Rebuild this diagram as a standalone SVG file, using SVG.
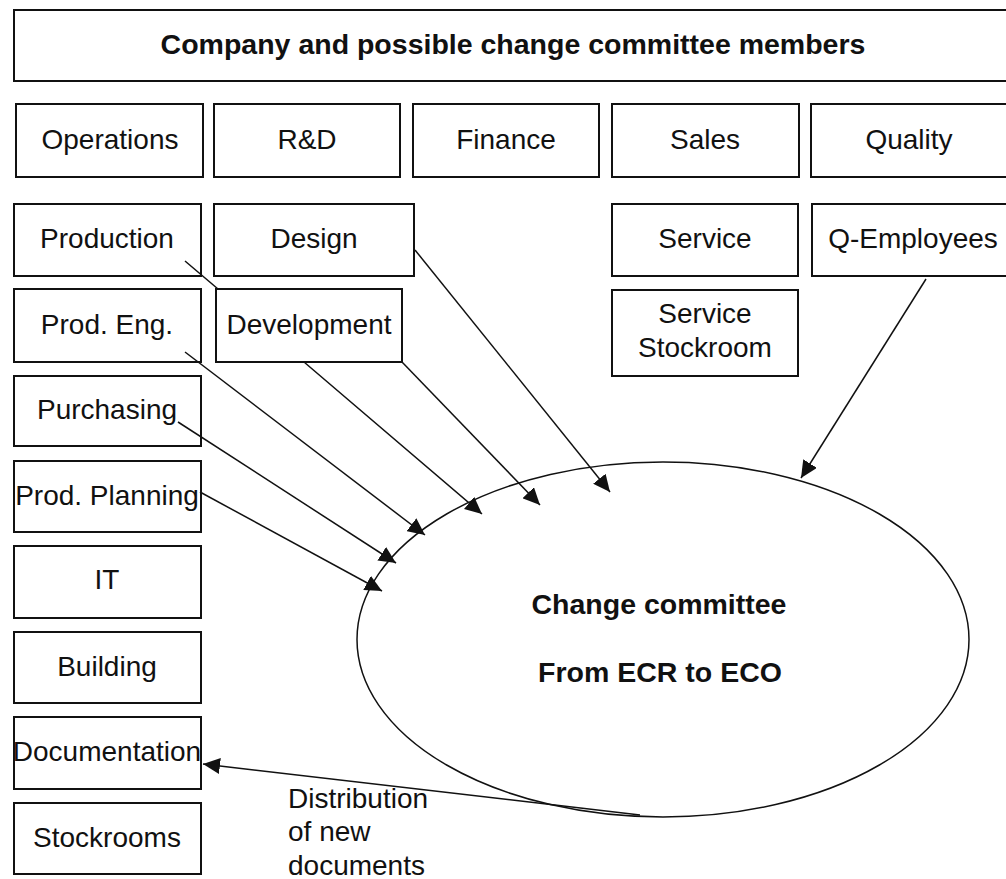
<svg xmlns="http://www.w3.org/2000/svg" width="1006" height="879" viewBox="0 0 1006 879">
<defs>
<style>
.box{fill:none;stroke:#111;stroke-width:2}
.t{font-family:"Liberation Sans",Arial,sans-serif;font-size:28px;fill:#111;text-anchor:middle}
.b{font-family:"Liberation Sans",Arial,sans-serif;font-size:28.5px;font-weight:bold;fill:#111;text-anchor:middle}
.l{font-family:"Liberation Sans",Arial,sans-serif;font-size:28px;fill:#111}
.c{fill:none;stroke:#111;stroke-width:1.5}
</style>
<marker id="ah" markerUnits="userSpaceOnUse" markerWidth="18" markerHeight="16" refX="17" refY="8" orient="auto">
<path d="M0,0 L17,8 L0,16 z" fill="#111"/>
</marker>
</defs>
<rect x="0" y="0" width="1006" height="879" fill="#fff"/>
<g id="connectors">
<path class="c" d="M185,261 L218,289 M304,362 L482,514" marker-end="url(#ah)"/>
<path class="c" d="M415,250 L610,492" marker-end="url(#ah)"/>
<path class="c" d="M402,362 L540,505" marker-end="url(#ah)"/>
<path class="c" d="M185,352 L425,535" marker-end="url(#ah)"/>
<path class="c" d="M178,422 L396,563" marker-end="url(#ah)"/>
<path class="c" d="M200,492 L382,591" marker-end="url(#ah)"/>
<path class="c" d="M926,279 L801,478" marker-end="url(#ah)"/>
<path class="c" d="M640,815 L203,764" marker-end="url(#ah)"/>
</g>
<g id="title"><rect class="box" x="14" y="10" width="1000" height="71"/><text class="b" x="513" y="54">Company and possible change committee members</text></g>
<g id="operations"><rect class="box" x="16" y="104" width="187" height="73"/><text class="t" x="110" y="149">Operations</text></g>
<g id="rd"><rect class="box" x="214" y="104" width="186" height="73"/><text class="t" x="307" y="149">R&amp;D</text></g>
<g id="finance"><rect class="box" x="413" y="104" width="186" height="73"/><text class="t" x="506" y="149">Finance</text></g>
<g id="sales"><rect class="box" x="612" y="104" width="187" height="73"/><text class="t" x="705" y="149">Sales</text></g>
<g id="quality"><rect class="box" x="811" y="104" width="200" height="73"/><text class="t" x="909" y="149">Quality</text></g>
<g id="production"><rect class="box" x="14" y="204" width="187" height="72"/><text class="t" x="107" y="248">Production</text></g>
<g id="design"><rect class="box" x="214" y="204" width="200" height="72"/><text class="t" x="314" y="248">Design</text></g>
<g id="service"><rect class="box" x="612" y="204" width="186" height="72"/><text class="t" x="705" y="248">Service</text></g>
<g id="q-employees"><rect class="box" x="812" y="204" width="200" height="72"/><text class="t" x="913" y="248">Q-Employees</text></g>
<g id="prod-eng"><rect class="box" x="14" y="289" width="187" height="73"/><text class="t" x="107" y="334">Prod. Eng.</text></g>
<g id="development"><rect class="box" x="216" y="289" width="186" height="73"/><text class="t" x="309" y="334">Development</text></g>
<g id="service-stockroom"><rect class="box" x="612" y="290" width="186" height="86"/><text class="t" x="705" y="323">Service</text><text class="t" x="705" y="357">Stockroom</text></g>
<g id="purchasing"><rect class="box" x="14" y="376" width="187" height="70"/><text class="t" x="107" y="419">Purchasing</text></g>
<g id="prod-planning"><rect class="box" x="14" y="461" width="187" height="71"/><text class="t" x="107" y="505">Prod. Planning</text></g>
<g id="it"><rect class="box" x="14" y="546" width="187" height="72"/><text class="t" x="107" y="589">IT</text></g>
<g id="building"><rect class="box" x="14" y="632" width="187" height="71"/><text class="t" x="107" y="676">Building</text></g>
<g id="documentation"><rect class="box" x="14" y="717" width="187" height="72"/><text class="t" x="107" y="761">Documentation</text></g>
<g id="stockrooms"><rect class="box" x="14" y="803" width="187" height="71"/><text class="t" x="107" y="847">Stockrooms</text></g>
<g id="change-committee"><ellipse cx="663" cy="639.5" rx="306" ry="177.5" fill="none" stroke="#111" stroke-width="1.5"/><text class="b" x="659" y="614">Change committee</text><text class="b" x="660" y="682">From ECR to ECO</text></g>
<g id="distribution-label"><text class="l" x="288" y="808">Distribution</text><text class="l" x="288" y="841">of new</text><text class="l" x="288" y="875">documents</text></g>
</svg>
